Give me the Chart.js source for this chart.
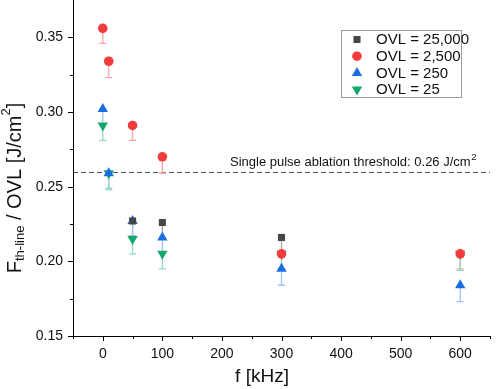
<!DOCTYPE html>
<html><head><meta charset="utf-8">
<script src="https://cdn.jsdelivr.net/npm/chart.js@4.4.1/dist/chart.umd.min.js"></script>
<style>html,body{margin:0;padding:0;background:#fff}#wrap{width:498px;height:389px}</style>
</head><body><div id="wrap"><canvas id="c" width="498" height="389"></canvas></div>
<script>
const freqs = [0, 10, 50, 100, 300, 600];
const ovl25000 = [null, null, 0.227, 0.226, 0.216, null];
const ovl2500 = [0.356, 0.334, 0.291, 0.270, 0.205, 0.205];
const ovl250 = [0.302, 0.259, 0.227, 0.216, 0.195, 0.184];
const ovl25 = [0.291, 0.259, 0.215, 0.205, 0.205, 0.205];
const err25000 = [null, null, 0.010, 0.010, 0.010, null];
const err2500 = [0.010, 0.011, 0.010, 0.011, 0.010, 0.010];
const err250 = [0.010, 0.010, 0.010, 0.010, 0.011, 0.011];
const err25 = [0.010, 0.011, 0.010, 0.010, 0.010, 0.011];
const yTicks = [0.15, 0.20, 0.25, 0.30, 0.35];
const xTicks = [0, 100, 200, 300, 400, 500, 600];
const threshold = 0.26;
const labels = ['OVL = 25,000', 'OVL = 2,500', 'OVL = 250', 'OVL = 25'];

const FONT = '"Liberation Sans", Arial, sans-serif';
const colors = ['#474747', '#f23c3c', '#1a6fe0', '#12a86a'];
const errColors = ['#a8a8a8', '#f5a8a8', '#9dc3f0', '#92d8bb'];
const styles = ['rect', 'circle', 'triangle', 'triangle'];
const radii = [5, 4.8, 6, 6];
const rots = [0, 0, 0, 180];
const series = [ovl25000, ovl2500, ovl250, ovl25];
const errs = [err25000, err2500, err250, err25];

const datasets = series.map((s, k) => ({
  label: labels[k],
  data: freqs.map((f, i) => s[i] == null ? null : {x: f, y: s[i]}).filter(p => p),
  err: freqs.map((f, i) => errs[k][i]).filter((e, i) => s[i] != null),
  backgroundColor: colors[k], borderColor: colors[k], borderWidth: 0,
  pointStyle: styles[k], pointRadius: radii[k], pointHoverRadius: radii[k], rotation: rots[k],
  showLine: false
}));

function drawMarker(ctx, style, x, y, r, rot, color) {
  ctx.save(); ctx.fillStyle = color; ctx.beginPath();
  if (style === 'rect') { const s = Math.SQRT1_2 * r; ctx.rect(x - s, y - s, 2 * s, 2 * s); }
  else if (style === 'circle') { ctx.arc(x, y, r, 0, Math.PI * 2); }
  else { let a = rot * Math.PI / 180; for (let i = 0; i < 3; i++) { const px = x + Math.sin(a) * r, py = y - Math.cos(a) * r; i ? ctx.lineTo(px, py) : ctx.moveTo(px, py); a += 2 * Math.PI / 3; } ctx.closePath(); }
  ctx.fill(); ctx.restore();
}

const plugin = {
  id: 'custom',
  beforeDatasetsDraw(chart) {
    const ctx = chart.ctx, xs = chart.scales.x, ys = chart.scales.y, ca = chart.chartArea;
    ctx.save();
    const ty = Math.round(ys.getPixelForValue(threshold)) + 0.5;
    ctx.strokeStyle = '#555'; ctx.lineWidth = 1; ctx.setLineDash([5, 3]);
    ctx.beginPath(); ctx.moveTo(ca.left, ty); ctx.lineTo(ca.right, ty); ctx.stroke();
    ctx.setLineDash([]);
    ctx.fillStyle = '#111'; ctx.font = '13px ' + FONT; ctx.textBaseline = 'alphabetic';
    const t = 'Single pulse ablation threshold: 0.26 J/cm';
    ctx.fillText(t, 230, ty - 7);
    const w = ctx.measureText(t).width;
    ctx.font = '9.5px ' + FONT; ctx.fillText('2', 230 + w + 0.5, ty - 13);
    ctx.restore();
    chart.data.datasets.forEach((ds, k) => {
      const meta = chart.getDatasetMeta(k);
      ctx.save(); ctx.strokeStyle = errColors[k]; ctx.lineWidth = 1.3;
      meta.data.forEach((pt, i) => {
        const v = ds.data[i].y, e = ds.err[i];
        const y2 = ys.getPixelForValue(v - e);
        ctx.beginPath(); ctx.moveTo(pt.x, pt.y); ctx.lineTo(pt.x, y2);
        ctx.moveTo(pt.x - 3.5, y2); ctx.lineTo(pt.x + 3.5, y2); ctx.stroke();
      });
      ctx.restore();
    });
  },
  afterDraw(chart) {
    const ctx = chart.ctx, xs = chart.scales.x, ys = chart.scales.y, ca = chart.chartArea;
    ctx.save(); ctx.strokeStyle = '#000'; ctx.lineWidth = 1;
    ctx.beginPath(); ctx.moveTo(ca.left + 0.5, 0); ctx.lineTo(ca.left + 0.5, ca.bottom + 0.5); ctx.lineTo(ca.right, ca.bottom + 0.5); ctx.stroke();
    for (let j = 0; j <= 8; j++) {
      const v = 0.15 + j * 0.025;
      const y = Math.round(ys.getPixelForValue(v)) + 0.5;
      const major = j % 2 === 0;
      ctx.beginPath(); ctx.moveTo(ca.left, y); ctx.lineTo(ca.left - (major ? 5 : 3), y); ctx.stroke();
    }
    for (let v = -50; v <= 650; v += 50) {
      const x = Math.round(xs.getPixelForValue(v)) + 0.5;
      const major = v % 100 === 0;
      ctx.beginPath(); ctx.moveTo(x, ca.bottom); ctx.lineTo(x, ca.bottom + (major ? 5 : 3)); ctx.stroke();
    }
    ctx.fillStyle = '#111';
    ctx.translate(15, 188); ctx.rotate(-Math.PI / 2);
    const parts = [['F', 20, 0], ['th-line', 13, 5], [' / OVL [J/cm', 20, 0], ['2', 13, -9], [']', 20, 0]];
    let tw = 0;
    parts.forEach(p => { ctx.font = p[1] + 'px ' + FONT; tw += ctx.measureText(p[0]).width; });
    let cx = -tw / 2;
    ctx.textBaseline = 'middle';
    parts.forEach(p => { ctx.font = p[1] + 'px ' + FONT; ctx.fillText(p[0], cx, p[2]); cx += ctx.measureText(p[0]).width; });
    ctx.restore();
    ctx.save(); ctx.fillStyle = '#111'; ctx.font = '19px ' + FONT; ctx.textAlign = 'center'; ctx.textBaseline = 'middle';
    ctx.fillText('f [kHz]', 262, 377); ctx.restore();
    ctx.save();
    ctx.fillStyle = '#fff'; ctx.fillRect(341, 30, 121, 68);
    ctx.strokeStyle = '#999'; ctx.lineWidth = 1; ctx.strokeRect(341.5, 30.5, 120, 67);
    ctx.font = '15px ' + FONT; ctx.textBaseline = 'middle'; ctx.fillStyle = '#111';
    for (let k = 0; k < 4; k++) {
      const y = 39.5 + k * 16.7;
      drawMarker(ctx, styles[k], 357, y, radii[k], rots[k], colors[k]);
      ctx.fillText(labels[k], 376, y + 0.5);
    }
    ctx.restore();
  }
};

new Chart(document.getElementById('c'), {
  type: 'scatter',
  data: { datasets },
  plugins: [plugin],
  options: {
    responsive: false, animation: false, devicePixelRatio: 1,
    layout: { padding: { left: 0, right: 8, top: 0, bottom: 0 } },
    plugins: { legend: { display: false }, tooltip: { enabled: false } },
    scales: {
      x: {
        type: 'linear', min: -50, max: 650,
        afterBuildTicks: s => { s.ticks = xTicks.map(v => ({ value: v })); },
        afterFit: s => { s.height = 53; s.paddingLeft = 0; s.paddingRight = 0; },
        grid: { display: false, drawTicks: false }, border: { display: false },
        ticks: { padding: 10, color: '#111', font: { size: 14, family: FONT }, maxRotation: 0, callback: v => String(v) }
      },
      y: {
        type: 'linear', min: 0.15, max: 0.371,
        afterBuildTicks: s => { s.ticks = yTicks.map(v => ({ value: v })); },
        afterFit: s => { s.width = 73; s.paddingTop = 0; s.paddingBottom = 0; },
        grid: { display: false, drawTicks: false }, border: { display: false },
        ticks: { padding: 10, color: '#111', font: { size: 14, family: FONT }, callback: v => v.toFixed(2) }
      }
    }
  }
});
</script></body></html>
